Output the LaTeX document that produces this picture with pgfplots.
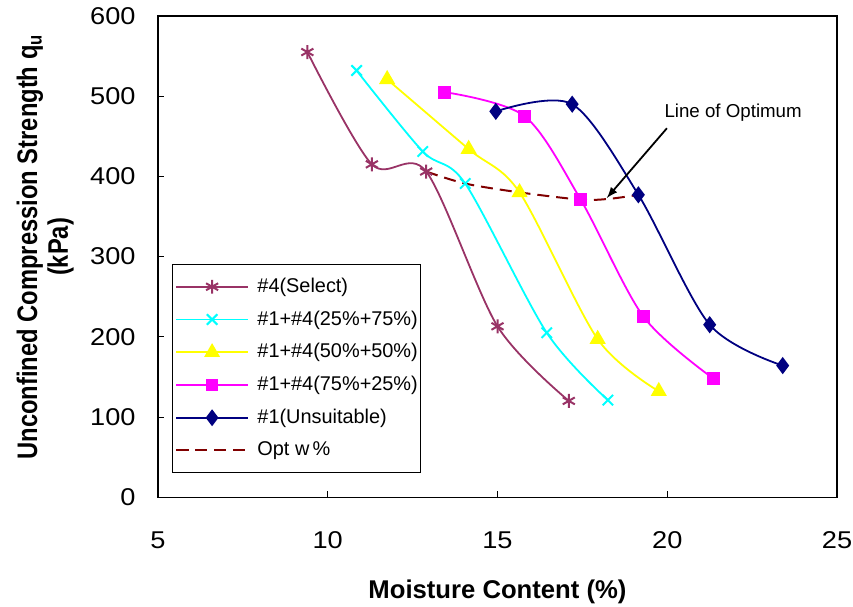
\documentclass[border=0pt]{standalone}
\usepackage{pgfplots}
\pgfplotsset{compat=1.18}
\usepackage{fontspec}
\setmainfont{Liberation Sans}
\newfontfamily\tickfont[FakeStretch=1.12]{Liberation Sans}
\newfontfamily\ylabfont[FakeStretch=0.84]{Liberation Sans}
\definecolor{cSel}{HTML}{993366}
\definecolor{cCy}{HTML}{00FFFF}
\definecolor{cYe}{HTML}{FFFF00}
\definecolor{cMa}{HTML}{FF00FF}
\definecolor{cNa}{HTML}{000080}
\definecolor{cOpt}{HTML}{800000}
\begin{document}
\begin{tikzpicture}
\begin{axis}[
  scale only axis,
  width=340bp, height=240.9bp,
  xmin=5, xmax=25, ymin=0, ymax=600,
  xtick={5,10,15,20,25}, ytick={0,100,...,600},
  tick align=inside, tick style={black, thin},
  major tick length=3bp,
  xtick pos=bottom, ytick pos=left,
  axis line style={black, line width=0.6bp},
  /pgf/number format/assume math mode=true,
  tick label style={font=\tickfont\fontsize{12.2}{14}\selectfont},
  xticklabel style={anchor=base, inner sep=0pt, yshift=-25.5bp},
  yticklabel style={anchor=east, inner sep=0pt, xshift=-11bp},
  xlabel={\textbf{Moisture Content (\%)}},
  ylabel={\textbf{Unconfined Compression Strength q\textsubscript{u}}\\\textbf{(kPa)}},
  xlabel style={font=\fontsize{12.9}{15}\selectfont, at={(axis description cs:0.5,0)}, anchor=base, yshift=-50.6bp, inner sep=0pt},
  ylabel style={font=\ylabfont\fontsize{14.2}{15.4}\selectfont, align=center, at={(axis description cs:-0.166,0.52)}, anchor=center, inner sep=0pt},
  legend cell align=left,
  legend style={at={(0.0206,0.05)}, anchor=south west, draw=black, thin,
    font=\fontsize{10}{12}\selectfont, row sep=3.7bp, inner xsep=1.5bp, inner ysep=5bp,
    nodes={inner xsep=0bp},
    /tikz/every odd column/.append style={column sep=4.3bp}},
  legend image code/.code={\draw[mark repeat=2,mark phase=2] plot coordinates {(0bp,0bp) (18bp,0bp) (36bp,0bp)};},
  legend image post style={line width=0.8bp},
  every axis plot/.append style={line width=0.9bp},
]
\coordinate (bl) at (rel axis cs:0,0);
\coordinate (tr) at (rel axis cs:1,1);
\addplot[cSel, smooth, tension=0.5, mark=asterisk, mark size=3.5pt, mark options={line width=1bp}]
  coordinates {(9.4,555) (11.3,415) (12.9,406) (15.0,213) (17.1,120)};
\addlegendentry{\#4(Select)}
\addplot[cCy, smooth, tension=0.5, mark=x, mark size=3.7pt, mark options={line width=1bp}]
  coordinates {(10.85,532) (12.8,431) (14.05,391) (16.45,205) (18.25,121)};
\addlegendentry{\#1+\#4(25\%+75\%)}
\addplot[cYe, smooth, tension=0.5, mark=triangle*, mark size=3.8pt]
  coordinates {(11.75,521) (14.15,434) (15.65,380) (17.95,197) (19.75,132)};
\addlegendentry{\#1+\#4(50\%+50\%)}
\addplot[cMa, smooth, tension=0.5, mark=square*, mark size=2.8pt]
  coordinates {(13.45,505) (15.8,475) (17.45,371) (19.3,225) (21.35,148)};
\addlegendentry{\#1+\#4(75\%+25\%)}
\addplot[cNa, smooth, tension=0.5, mark=diamond*, mark size=3.6pt]
  coordinates {(14.95,481) (17.2,490) (19.15,377) (21.25,215) (23.4,164)};
\addlegendentry{\#1(Unsuitable)}
\addplot[cOpt, smooth, tension=0.5, dash pattern=on 6bp off 3.5bp, line width=1bp]
  coordinates {(12.9,406) (14.05,391) (15.65,380) (17.45,371) (18.3,372) (19.15,377)};
\addlegendentry{Opt w\,\%}
\node[font=\fontsize{9.4}{11}\selectfont] at (axis cs:21.94,479) {Line of Optimum};
\draw[-latex, black, line width=0.9bp] (axis cs:19.99,460) -- (axis cs:18.22,373);
\end{axis}
\pgfresetboundingbox
\path[use as bounding box] ([shift={(-79.1bp,-54.6bp)}]bl) rectangle ([shift={(8bp,8bp)}]tr);
\end{tikzpicture}
\end{document}
